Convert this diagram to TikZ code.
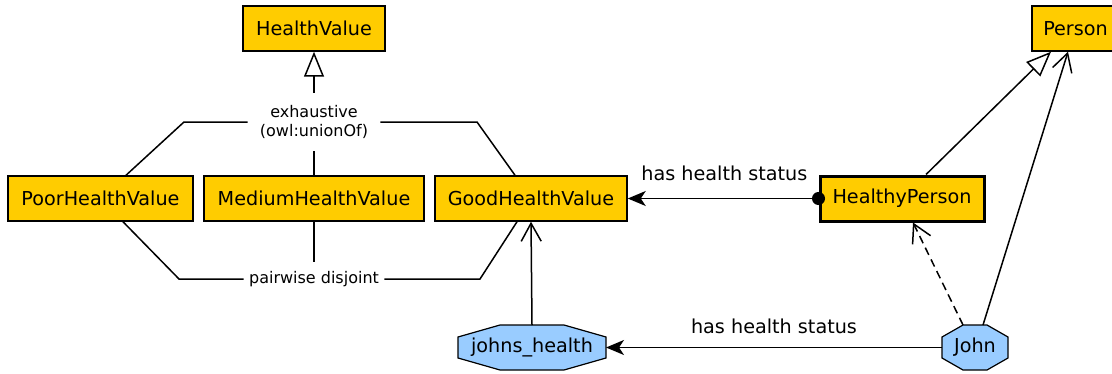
\documentclass[tikz,border=0pt]{standalone}
\usepackage{fontspec}
\setmainfont{DejaVu Sans}
\usetikzlibrary{arrows.meta}
\definecolor{classgold}{HTML}{FFCC00}
\definecolor{indivblue}{HTML}{99CCFF}
\pgfdeclarelayer{background}
\pgfsetlayers{background,main}
\tikzset{
    classbox/.style={draw, fill=classgold, line width=0.75pt, minimum height=22.5pt,
        inner sep=0pt, font=\fontsize{9.6}{11.5}\selectfont},
    indiv/.style={minimum height=22.5pt, inner sep=0pt, outer sep=0pt,
        font=\fontsize{9.6}{11.5}\selectfont},
    octo/.style={draw, fill=indivblue, line width=0.6pt},
    note/.style={font=\fontsize{8}{9.5}\selectfont, align=center},
    link/.style={line width=0.75pt},
    gen/.style={link, -{Triangle[open, length=12.5pt, width=10pt, fill=white]}},
    inst/.style={link, -{Straight Barb[length=9pt, width=10pt]}},
    prop/.style={link, -{Stealth[length=9pt, width=7.5pt, inset=2.5pt]}},
    proplabel/.style={font=\fontsize{9.6}{11.5}\selectfont}
}
% octagon behind an individual node: #1 node name, #2 horizontal chamfer
\newcommand{\octagonbg}[2]{%
    \filldraw[octo] ([xshift=#2]#1.north west) -- ([xshift=-#2]#1.north east)
        -- ([yshift=-6pt]#1.north east) -- ([yshift=6pt]#1.south east)
        -- ([xshift=-#2]#1.south east) -- ([xshift=#2]#1.south west)
        -- ([yshift=6pt]#1.south west) -- ([yshift=-6pt]#1.north west) -- cycle;}
\begin{document}
\begin{tikzpicture}[x=0.5pt, y=-0.5pt]
    \useasboundingbox (0,0) rectangle (1112,374);

    % Health values
    \node[classbox, minimum width=71pt] (hv) at (314, 28.5) {HealthValue};
    \node[classbox, minimum width=92.5pt] (poor) at (100.5, 198.5) {PoorHealthValue};
    \node[classbox, minimum width=110pt] (medium) at (314, 198.5) {MediumHealthValue};
    \node[classbox, minimum width=96pt] (good) at (531, 198.5) {GoodHealthValue};

    % Persons
    \node[classbox, minimum width=82pt, line width=1.5pt] (hp) at (902, 198.5) {HealthyPerson};
    \node[classbox, minimum width=43.5pt] (person) at (1075.5, 28.5) {Person};

    % Individuals
    \node[indiv, minimum width=74pt] (jh) at (532, 347.5) {johns\_health};
    \node[indiv, minimum width=33pt] (john) at (975, 347.5) {John};
    \begin{pgfonlayer}{background}
        \octagonbg{jh}{21pt}
        \octagonbg{john}{10.5pt}
    \end{pgfonlayer}

    % Covering of HealthValue
    \node[note, inner sep=6pt] (exh) at (314, 122) {exhaustive\\(owl:unionOf)};
    \coordinate (exL) at (184, 122);
    \coordinate (exR) at (477, 122);
    \draw[gen] (exh.north) -- (hv.south);
    \draw[link] (exh.south) -- (medium.north);
    \draw[link] (exh.west) -- (exL) -- ([xshift=12.75pt]poor.north);
    \draw[link] (exh.east) -- (exR) -- ([xshift=-8pt]good.north);

    % Disjointness
    \node[note, inner xsep=2.5pt, inner ysep=4.5pt] (dis) at (314, 279) {pairwise disjoint};
    \coordinate (djL) at (179, 279);
    \coordinate (djR) at (480, 279);
    \draw[link] (medium.south) -- (dis.north);
    \draw[link] ([xshift=11.25pt]poor.south) -- (djL) -- (dis.west);
    \draw[link] (dis.east) -- (djR) -- ([xshift=-7pt]good.south);

    % Properties
    \draw[prop, {Circle[length=6.5pt]}-{Stealth[length=9pt, width=7.5pt, inset=2.5pt]}]
        ([xshift=3.25pt]hp.west) -- node[pos=0.51, above=5pt, proplabel] {has health status} (good.east);
    \draw[prop] (john.west) -- node[above=3pt, proplabel] {has health status} (jh.east);

    % Subclass and type links
    \draw[gen] ([xshift=12pt]hp.north) -- ([xshift=-12.25pt]person.south);
    \draw[inst] ([xshift=4pt]john.north) -- ([xshift=-3.75pt]person.south);
    \draw[inst, dash pattern=on 4pt off 2.5pt] ([xshift=-6pt]john.north) -- ([xshift=5.5pt]hp.south);
    \draw[inst] (jh.north) -- (good.south);
\end{tikzpicture}
\end{document}
